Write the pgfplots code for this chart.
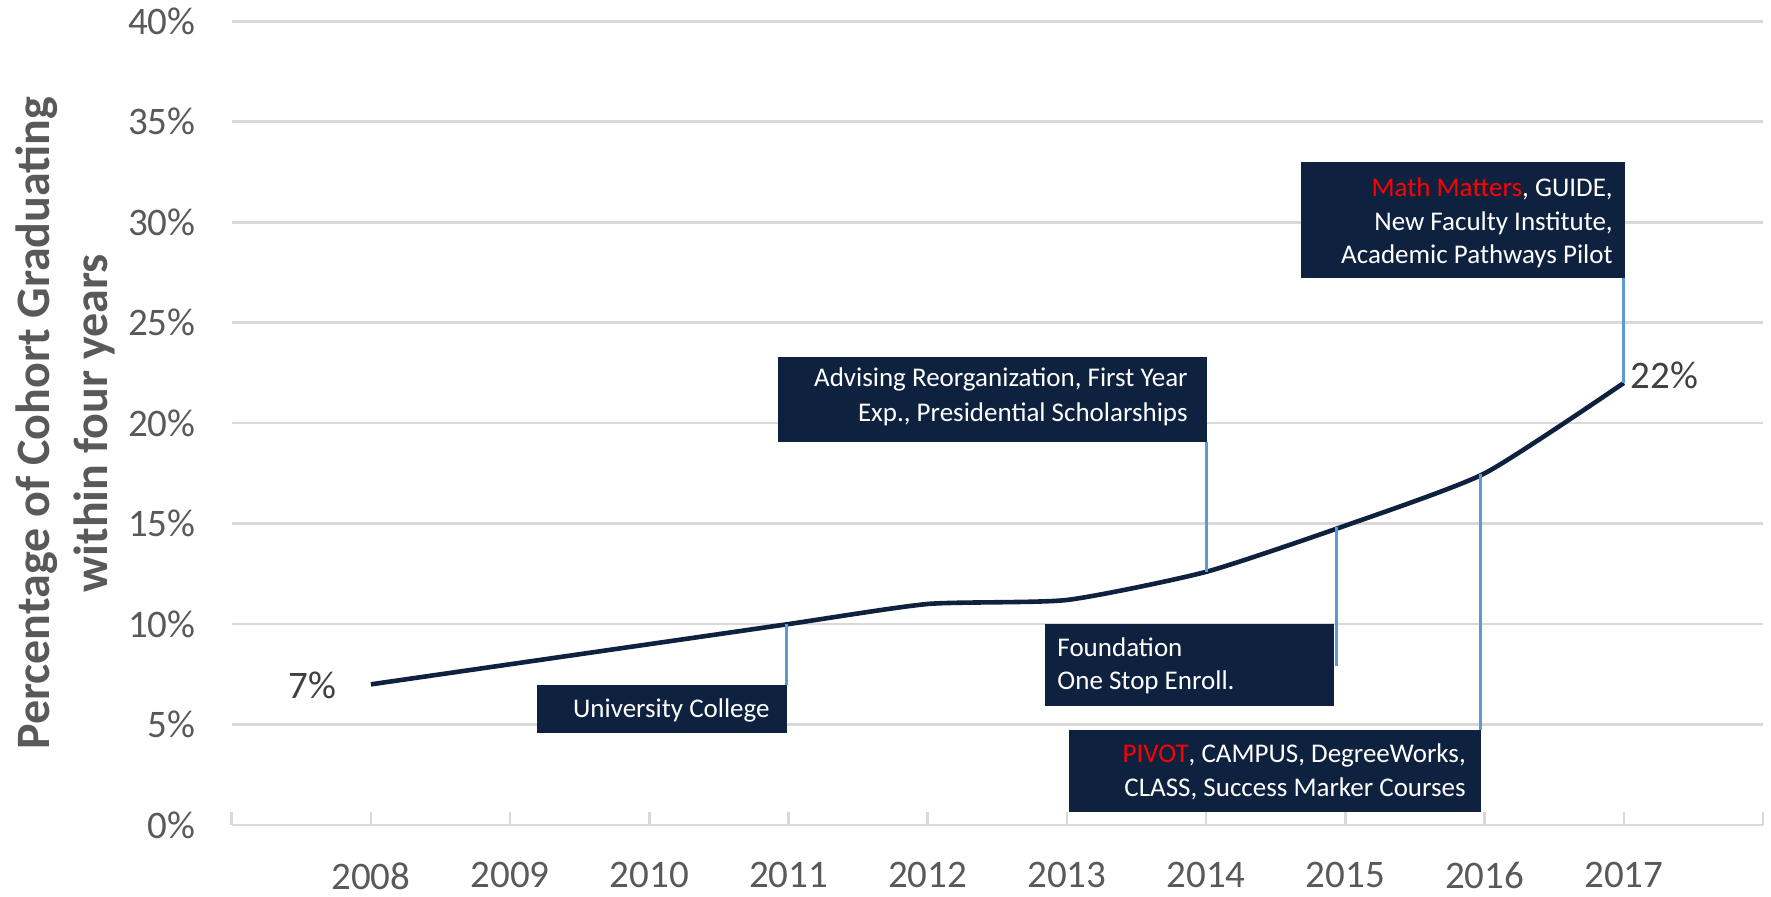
\documentclass[border=0pt]{standalone}
\usepackage{pgfplots}
\pgfplotsset{compat=1.18}
\usepackage{fontspec}
\setmainfont{Carlito}
\definecolor{navy}{HTML}{0E2240}
\definecolor{lead}{HTML}{5B9BD5}
\definecolor{gridc}{HTML}{D9D9D9}
\definecolor{ticktxt}{HTML}{595959}
\definecolor{lbl}{HTML}{404040}
\definecolor{mred}{HTML}{FF0000}
\newcommand\tickfont{\fontsize{19.5bp}{23bp}\selectfont}
\newcommand\annfont{\fontsize{13.5bp}{16.5bp}\selectfont}
\begin{document}
\begin{tikzpicture}
\useasboundingbox (0,0) rectangle (885.5bp,448.5bp);
\begin{axis}[
  at={(115.85bp,36bp)}, anchor=south west,
  scale only axis, width=765.65bp, height=401.85bp,
  xmin=-1, xmax=10, ymin=0, ymax=40,
  clip=false,
  axis line style={draw=none},
  xtick={-1,0,1,2,3,4,5,6,7,8,9,10},
  xticklabels={,2008,2009,2010,2011,2012,2013,2014,2015,2016,2017,},
  xtick pos=bottom,
  tick align=inside,
  major tick length=6.5bp,
  xtick style={draw=gridc, line width=1.3bp},
  ytick={0,5,10,15,20,25,30,35,40},
  yticklabels={0\%,5\%,10\%,15\%,20\%,25\%,30\%,35\%,40\%},
  ytick style={draw=none},
  ymajorgrids,
  grid style={draw=gridc, line width=1.3bp},
  xticklabel style={font=\tickfont, text=ticktxt, inner sep=0pt, anchor=north, yshift=-18.5bp},
  yticklabel style={font=\tickfont, text=ticktxt, inner sep=0pt, anchor=east, xshift=-17.85bp},
  ylabel={Percentage of Cohort Graduating\\within four years},
  ylabel style={at={(axis description cs:-0.1089,0.5)}, anchor=center, align=center,
    font=\bfseries\fontsize{24bp}{29bp}\selectfont, text=ticktxt},
]
\addplot[navy, line width=2.3bp, smooth, tension=0.35] coordinates {
  (0,7.0) (1,8.0) (2,9.0) (3,10.0) (4,11.0) (5,11.2) (6,12.6) (7,14.9) (8,17.5) (9,22.0)
};
% leader lines
\draw[lead, line width=1.5bp] (axis cs:2.985,10.0) -- (axis cs:2.985,6.97);
\draw[lead, line width=1.5bp] (axis cs:6.0,12.6) -- (axis cs:6.0,19.08);
\draw[lead, line width=1.5bp] (axis cs:6.933,14.85) -- (axis cs:6.933,7.91);
\draw[lead, line width=1.5bp] (axis cs:7.967,17.45) -- (axis cs:7.967,4.73);
\draw[lead, line width=1.5bp] (axis cs:9.0,22.0) -- (axis cs:9.0,27.23);
% boxes
\fill[navy] (axis cs:1.193,6.97) rectangle (axis cs:2.989,4.59);
\node[anchor=base east, inner sep=0pt, text=white, font=\annfont] at (axis cs:2.867,5.33) {University College};
\fill[navy] (axis cs:2.924,23.31) rectangle (axis cs:6.006,19.08);
\node[anchor=base east, inner sep=0pt, text=white, font=\annfont] at (axis cs:5.870,21.80) {Advising Reorganization, First Year};
\node[anchor=base east, inner sep=0pt, text=white, font=\annfont] at (axis cs:5.870,20.07) {Exp., Presidential Scholarships};
\fill[navy] (axis cs:4.843,10.0) rectangle (axis cs:6.919,5.94);
\node[anchor=base west, inner sep=0pt, text=white, font=\annfont] at (axis cs:4.929,8.38) {Foundation};
\node[anchor=base west, inner sep=0pt, text=white, font=\annfont] at (axis cs:4.929,6.72) {One Stop Enroll.};
\fill[navy] (axis cs:5.015,4.73) rectangle (axis cs:7.973,0.66);
\node[anchor=base east, inner sep=0pt, text=white, font=\annfont] at (axis cs:7.867,3.09) {{\color{mred}PIVOT}, CAMPUS, DegreeWorks,};
\node[anchor=base east, inner sep=0pt, text=white, font=\annfont] at (axis cs:7.867,1.44) {CLASS, Success Marker Courses};
\fill[navy] (axis cs:6.682,33.0) rectangle (axis cs:9.009,27.23);
\node[anchor=base east, inner sep=0pt, text=white, font=\annfont] at (axis cs:8.923,31.27) {{\color{mred}Math Matters}, GUIDE,};
\node[anchor=base east, inner sep=0pt, text=white, font=\annfont] at (axis cs:8.923,29.61) {New Faculty Institute,};
\node[anchor=base east, inner sep=0pt, text=white, font=\annfont] at (axis cs:8.923,27.97) {Academic Pathways Pilot};
% end labels
\node[anchor=east, inner sep=0pt, text=lbl, font=\tickfont] at (axis cs:-0.244,6.97) {7\%};
\node[anchor=west, inner sep=0pt, text=lbl, font=\tickfont] at (axis cs:9.045,22.4) {22\%};
\end{axis}
\end{tikzpicture}
\end{document}
